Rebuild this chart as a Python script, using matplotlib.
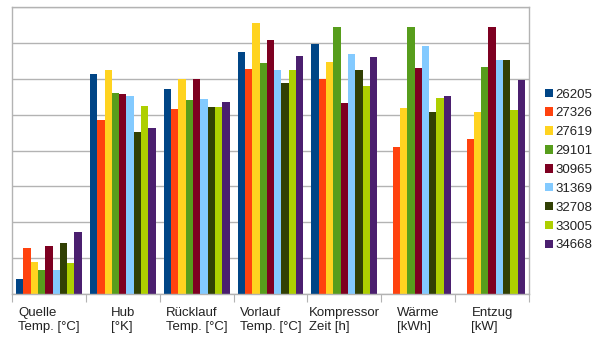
import numpy as np
import matplotlib
matplotlib.use("Agg")
import matplotlib.pyplot as plt
from matplotlib.patches import Patch

plt.rcParams['font.family'] = ['Liberation Sans', 'DejaVu Sans']

categories = ["Quelle\nTemp. [°C]", "Hub\n[°K]", "Rücklauf\nTemp. [°C]", "Vorlauf\nTemp. [°C]",
              "Kompressor\nZeit [h]", "Wärme\n[kWh]", "Entzug\n[kW]"]
series_names = ["26205", "27326", "27619", "29101", "30965", "31369", "32708", "33005", "34668"]
colors = ["#004586", "#ff420e", "#ffd320", "#579d1c", "#7e0021", "#83caff", "#314004", "#aecf00", "#4b1f6f"]

nan = np.nan
s26205 = [0.42, 6.13, 5.71, 6.74, 6.97, nan, nan]
s27326 = [1.28, 4.85, 5.15, 6.27, 5.99, 4.09, 4.32]
s27619 = [0.89, 6.24, 5.99, 7.55, 6.46, 5.18, 5.07]
s29101 = [0.67, 5.60, 5.40, 6.43, 7.44, 7.44, 6.32]
s30965 = [1.34, 5.57, 5.99, 7.08, 5.32, 6.30, 7.44]
s31369 = [0.67, 5.52, 5.43, 6.24, 6.69, 6.91, 6.52]
s32708 = [1.42, 4.51, 5.21, 5.88, 6.24, 5.07, 6.52]
s33005 = [0.86, 5.24, 5.21, 6.24, 5.79, 5.46, 5.13]
s34668 = [1.73, 4.62, 5.35, 6.63, 6.60, 5.52, 5.96]
series = [s26205, s27326, s27619, s29101, s30965, s31369, s32708, s33005, s34668]

fig = plt.figure(figsize=(6.05, 3.4), dpi=100)
ax = fig.add_axes([12/605, 1-294/340, (529-12)/605, (294-7)/340])

n = len(series)
w = 0.0989
x = np.arange(len(categories)) + 0.5
for j, (vals, c) in enumerate(zip(series, colors)):
    ax.bar(x + (j - (n-1)/2) * w, vals, width=w, color=c, linewidth=0, zorder=2)

grid_c = "#b3b3b3"
ax.set_xlim(0, len(categories))
ax.set_ylim(0, 8)
ax.set_yticks(np.arange(0, 9, 1))
ax.yaxis.grid(True, color=grid_c, linewidth=1, zorder=0)
ax.tick_params(axis='y', left=False, labelleft=False)
ax.set_xticks(np.arange(0, len(categories)+1))
ax.tick_params(axis='x', direction='out', length=6, color=grid_c, labelbottom=False)
for sp in ax.spines.values():
    sp.set_color(grid_c)
    sp.set_linewidth(1)

for i, lab in enumerate(categories):
    ax.text(x[i], -0.36, lab, ha='center', va='top', multialignment='left',
            fontsize=9.5, color='#222222', linespacing=1.28, transform=ax.transData)

handles = [Patch(facecolor=c, edgecolor='none', label=s) for s, c in zip(series_names, colors)]
fig.legend(handles=handles, loc='center left', bbox_to_anchor=(545/605, 0.5),
           frameon=False, fontsize=9.5, handlelength=0.62, handleheight=0.62,
           handletextpad=0.15, labelspacing=0.52, borderpad=0, borderaxespad=0,
           labelcolor='#222222')

fig.savefig("out.png", dpi=100)
